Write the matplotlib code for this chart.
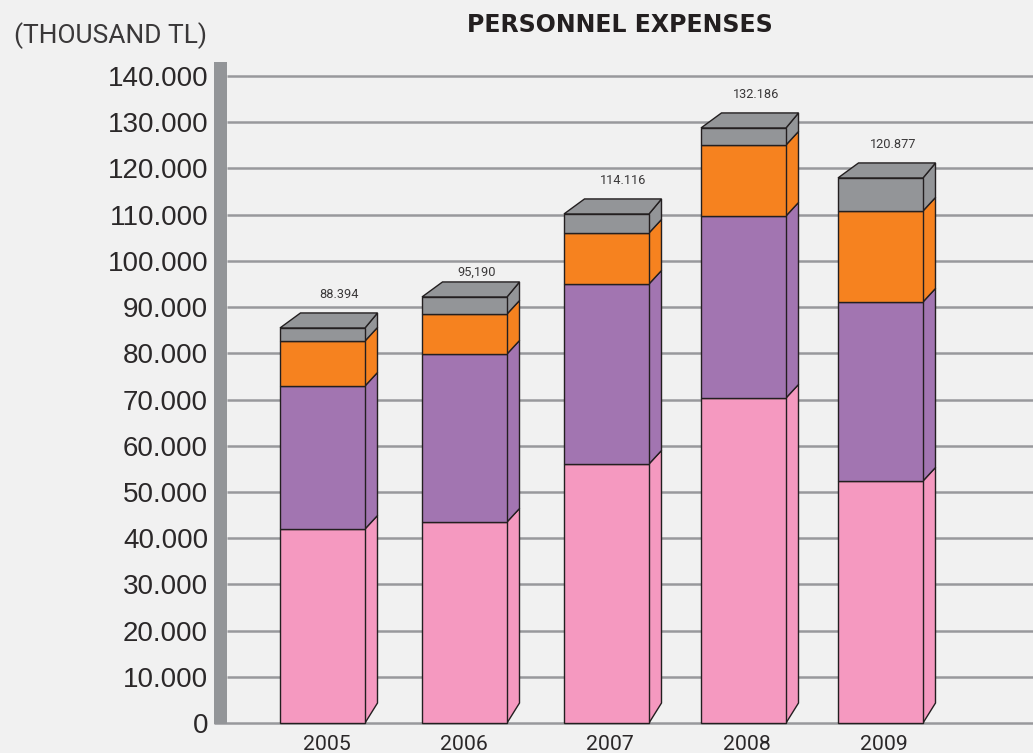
import numpy as np
import matplotlib
matplotlib.use('Agg')
import matplotlib.pyplot as plt
from matplotlib.patches import Polygon

years = ["2005", "2006", "2007", "2008", "2009"]
totals = ["88.394", "95,190", "114.116", "132.186", "120.877"]
tick_values = list(range(0, 150000, 10000))
tick_labels = ["0"] + [f"{v // 1000}.000" for v in tick_values[1:]]

pink = [41980, 43500, 56050, 70330, 52370]
purple = [30950, 36350, 38950, 39390, 38740]
orange = [9740, 8650, 11040, 15360, 19690]
gray = [2810, 3690, 4110, 3680, 7140]

series = [pink, purple, orange, gray]
colors = ["#F599C0", "#A275B1", "#F6821F", "#939598"]

# layout in pixels
W, H = 1033, 753
Y0, Y140 = 723.0, 76.0
bar_left = [280, 422, 564, 701, 838]
bar_w = 85
year_x = [327, 464, 610, 747, 884]
total_x = [339, 477, 623, 756, 893]
total_gap = [33, 25, 33, 33, 33]
DX = 12.5
LINE = "#231F20"
GRID = "#98999C"
BG = "#F1F1F1"

PX = 140000 / (Y0 - Y140)  # data units per pixel

fig = plt.figure(figsize=(W / 100, H / 100), dpi=100, facecolor=BG)
ax = fig.add_axes([0, 0, 1, 1], facecolor=BG)
ax.set_xlim(0, W)
ax.set_ylim(-(H - Y0) * PX, Y0 * PX)
ax.axis("off")

# gridlines and the grey wall on the left
ax.hlines(tick_values[1:], 227, W, color=GRID, lw=1.8, zorder=1)
ax.hlines(0, 214, W, color=GRID, lw=1.8, zorder=1)
ax.bar(220.5, 662 * PX, width=13, bottom=-1 * PX, color="#939598", lw=0, zorder=2)

for v, lab in zip(tick_values, tick_labels):
    ax.text(208, v, lab, ha="right", va="center_baseline", fontsize=20,
            family="Liberation Sans", color="#2B2829")

stacks = np.cumsum(np.array(series), axis=0)

for i, x in enumerate(bar_left):
    bottom = 0
    for s, col in enumerate(colors):
        top = stacks[s][i]
        # side offset is steeper at the floor, flatter higher up
        lo = 20 if s == 0 else 13.5
        hi = 15 if s == 3 else 13.5
        side = [(x + bar_w, bottom), (x + bar_w + DX, bottom + lo * PX),
                (x + bar_w + DX, top + hi * PX), (x + bar_w, top)]
        ax.add_patch(Polygon(side, closed=True, fc=col, ec=LINE, lw=1.0, zorder=3))
        ax.bar(x + bar_w / 2, top - bottom, width=bar_w, bottom=bottom, color=col,
               edgecolor=LINE, lw=1.0, zorder=4)
        bottom = top
    # top face, its back left corner sits further right than the back right one
    lid = [(x, bottom), (x + 20.5, bottom + 15 * PX),
           (x + bar_w + DX, bottom + 15 * PX), (x + bar_w, bottom)]
    ax.add_patch(Polygon(lid, closed=True, fc=colors[3], ec=LINE, lw=1.0, zorder=5))

    ax.text(total_x[i], bottom + total_gap[i] * PX, totals[i], ha="center", va="center",
            fontsize=9.2, family="Roboto", color="#3A3839")
    ax.text(year_x[i], -(744 - Y0) * PX, years[i], ha="center", va="center",
            fontsize=15.3, family="Roboto", color="#2B2829")

ax.text(620, (Y0 - 25) * PX, "PERSONNEL EXPENSES", ha="center", va="center",
        fontsize=17, fontweight="bold", family="DejaVu Sans", color="#231F20")
ax.text(110, (Y0 - 36) * PX, "(THOUSAND TL)", ha="center", va="center",
        fontsize=19, family="Roboto", color="#3A3839")

fig.savefig("out.png", dpi=100, facecolor=BG)
plt.close(fig)
